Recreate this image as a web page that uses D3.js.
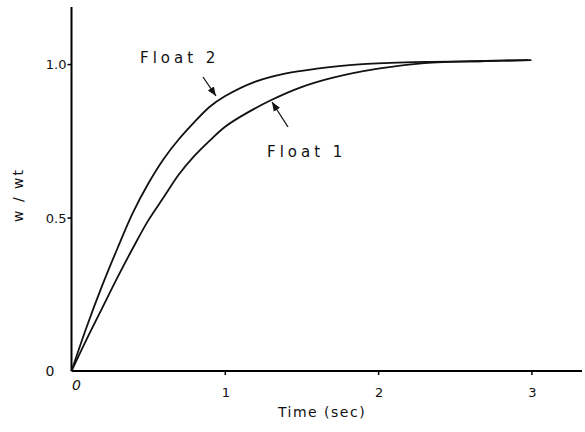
<!DOCTYPE html>
<html>
<head>
<meta charset="utf-8">
<script src="https://cdn.jsdelivr.net/npm/d3@7"></script>
<style>
  body { margin: 0; background: #fff; }
  svg { display: block; }
  text { font-family: "DejaVu Sans", sans-serif; fill: #111; }
</style>
</head>
<body>
<svg width="585" height="432"></svg>
<script>
// values
const time1 = [0, 0.1, 0.2, 0.3, 0.4, 0.5, 0.6, 0.7, 0.8, 0.9, 1.0, 1.1, 1.3, 1.5, 1.7, 2.0, 2.3, 2.7, 3.0];
const float1 = [0, 0.105, 0.205, 0.305, 0.40, 0.49, 0.565, 0.64, 0.70, 0.75, 0.795, 0.828, 0.882, 0.925, 0.955, 0.985, 1.003, 1.01, 1.013];
const time2 = [0, 0.1, 0.2, 0.3, 0.4, 0.5, 0.6, 0.7, 0.8, 0.9, 1.0, 1.2, 1.4, 1.6, 1.9, 2.3, 2.7, 2.98];
const float2 = [0, 0.145, 0.278, 0.40, 0.515, 0.61, 0.69, 0.755, 0.81, 0.86, 0.895, 0.943, 0.97, 0.985, 1.0, 1.007, 1.01, 1.013];
const xTicks = [1, 2, 3];
const yTicks = [0.5, 1.0];
const yTickLabels = ["0.5", "1.0"];

const svg = d3.select('svg');

const x = d3.scaleLinear().domain([0, 3.33]).range([71.5, 582]);
const y = d3.scaleLinear().domain([0, 1.186]).range([371, 7]);

// axes
svg.append('g')
	.attr('transform', 'translate(0,' + y(0) + ')')
	.call(d3.axisBottom(x).tickValues(xTicks).tickSize(4).tickFormat(''))
	.call(g => g.select('.domain').attr('stroke-width', 2).attr('d', 'M' + x(0) + ',0H' + x(3.33)))
	.call(g => g.selectAll('.tick line').attr('stroke-width', 1.5));

svg.append('g')
	.attr('transform', 'translate(' + x(0) + ',0)')
	.call(d3.axisLeft(y).tickValues(yTicks).tickSize(4).tickFormat(''))
	.call(g => g.select('.domain').attr('stroke-width', 2).attr('d', 'M0,' + y(0) + 'V' + y(1.186)))
	.call(g => g.selectAll('.tick line').attr('stroke-width', 1.5));

// tick labels
svg.selectAll('.xlab')
	.data(xTicks)
	.enter()
	.append('text')
	.attr('x', d => x(d) + 1)
	.attr('y', y(0) + 26)
	.attr('text-anchor', 'middle')
	.style('font-size', '13px')
	.text(d => d);

svg.append('text')
	.attr('x', x(0) + 5)
	.attr('y', y(0) + 19)
	.attr('text-anchor', 'middle')
	.style('font-size', '14px')
	.style('font-style', 'italic')
	.text('0');

svg.selectAll('.ylab')
	.data(yTicks)
	.enter()
	.append('text')
	.attr('x', x(0) - 5)
	.attr('y', d => y(d) + 5)
	.attr('text-anchor', 'end')
	.style('font-size', '13px')
	.text((d, i) => yTickLabels[i]);

svg.append('text')
	.attr('x', x(0) - 17)
	.attr('y', y(0) + 5)
	.attr('text-anchor', 'end')
	.style('font-size', '14px')
	.text('0');

// axis titles
svg.append('text')
	.attr('x', 322)
	.attr('y', 417)
	.attr('text-anchor', 'middle')
	.style('font-size', '14px')
	.style('letter-spacing', '1.5px')
	.text('Time (sec)');

svg.append('text')
	.attr('transform', 'translate(23,195) rotate(-90)')
	.attr('text-anchor', 'middle')
	.style('font-size', '14px')
	.style('letter-spacing', '2px')
	.text('w / wt');

// curves
const line = d3.line()
	.x(d => x(d[0]))
	.y(d => y(d[1]))
	.curve(d3.curveCatmullRom.alpha(0.5));

svg.append('path')
	.datum(d3.zip(time1, float1))
	.attr('fill', 'none')
	.attr('stroke', '#111')
	.attr('stroke-width', 1.8)
	.attr('d', line);

svg.append('path')
	.datum(d3.zip(time2, float2))
	.attr('fill', 'none')
	.attr('stroke', '#111')
	.attr('stroke-width', 1.8)
	.attr('d', line);

// arrow head
svg.append('defs').append('marker')
	.attr('id', 'head')
	.attr('viewBox', '0 0 10 10')
	.attr('refX', 10)
	.attr('refY', 5)
	.attr('markerWidth', 7)
	.attr('markerHeight', 7)
	.attr('orient', 'auto')
	.append('path')
	.attr('d', 'M0,1L10,5L0,9z')
	.attr('fill', '#111');

// annotations
svg.append('text')
	.attr('x', 140)
	.attr('y', 63)
	.style('font-size', '15px')
	.style('letter-spacing', '4px')
	.text('Float 2');

svg.append('line')
	.attr('x1', 203).attr('y1', 77)
	.attr('x2', 216).attr('y2', 96)
	.attr('stroke', '#111')
	.attr('stroke-width', 1.3)
	.attr('marker-end', 'url(#head)');

svg.append('text')
	.attr('x', 267)
	.attr('y', 157)
	.style('font-size', '15px')
	.style('letter-spacing', '4px')
	.text('Float 1');

svg.append('line')
	.attr('x1', 288).attr('y1', 127)
	.attr('x2', 272).attr('y2', 102)
	.attr('stroke', '#111')
	.attr('stroke-width', 1.3)
	.attr('marker-end', 'url(#head)');
</script>
</body>
</html>
